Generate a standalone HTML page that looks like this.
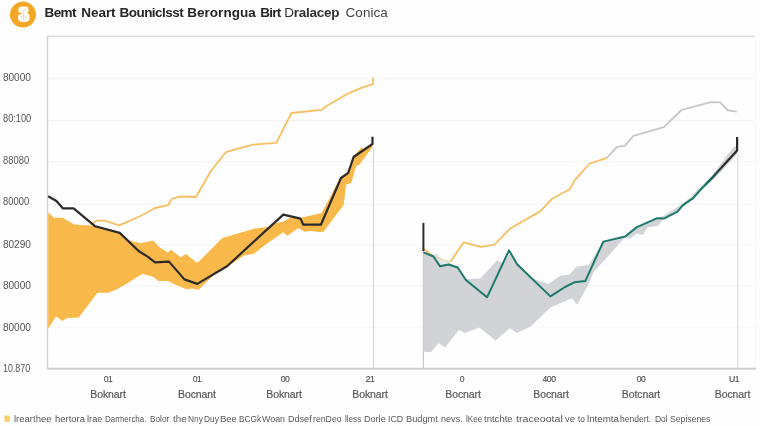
<!DOCTYPE html>
<html><head><meta charset="utf-8">
<style>
html,body{margin:0;padding:0;background:#fefefe;}
body{width:760px;height:426px;overflow:hidden;position:relative;font-family:"Liberation Sans",sans-serif;}
svg{position:absolute;left:0;top:0;filter:blur(0.4px);}
.t,#lg span{filter:blur(0.35px);}
.t{position:absolute;white-space:nowrap;line-height:1;}
.tw{top:6px;font-size:13.5px;font-weight:bold;color:#262626;}
#lg span{position:absolute;top:414.1px;white-space:nowrap;line-height:1;font-size:9.4px;color:#585858;transform-origin:left center;display:block;}
.yl{left:2.9px;font-size:10.1px;color:#555;transform-origin:left center;}
.xn{font-size:8.6px;color:#505050;-webkit-text-stroke:0.15px #505050;transform:translateX(-50%);letter-spacing:-0.45px;}
.xl{font-size:10.5px;color:#5a5a5a;-webkit-text-stroke:0.2px #5a5a5a;transform:translateX(-50%);letter-spacing:-0.1px;}
</style></head><body>
<svg width="760" height="426" viewBox="0 0 760 426">
 <!-- gridlines -->
 <g stroke="#f4f4f4" stroke-width="1.2">
  <line x1="47" y1="78.6" x2="754" y2="78.6"/>
  <line x1="47" y1="120.7" x2="754" y2="120.7"/>
  <line x1="47" y1="161.8" x2="754" y2="161.8"/>
  <line x1="47" y1="204.4" x2="754" y2="204.4"/>
  <line x1="47" y1="245" x2="754" y2="245"/>
  <line x1="47" y1="285.8" x2="754" y2="285.8"/>
  <line x1="47" y1="327" x2="754" y2="327"/>
 </g>
 <!-- frame -->
 <line x1="47" y1="36.3" x2="755" y2="36.3" stroke="#dcdcdc" stroke-width="1.4"/>
 <line x1="47.5" y1="36" x2="47.5" y2="368" stroke="#d2d2d2" stroke-width="1.4"/>
 <line x1="373.5" y1="148" x2="373.5" y2="368" stroke="#d6d6d6" stroke-width="1.2"/>
 <line x1="423.4" y1="250" x2="423.4" y2="368" stroke="#c8c8c8" stroke-width="1.2"/>
 <line x1="737.8" y1="150" x2="737.8" y2="368" stroke="#dddddd" stroke-width="1.2"/>
 <line x1="47" y1="368.8" x2="756" y2="368.8" stroke="#cfcfcf" stroke-width="2"/>
 <line x1="755.5" y1="36" x2="755.5" y2="368" stroke="#f6f6f6" stroke-width="1"/>

 <!-- left orange fill -->
 <polygon fill="#f8b84a" points="48.2,212.3 54,217.7 62.8,217.7 74,224.5 90.5,225.6 95.2,226.3 119.8,232.9 129.2,240.4 141,243.2 153.1,240.4 159.7,247.5 168,252.6 171,249.8 180.4,257.3 186,254 196.8,262.7 200,260.4 222.3,238.1 254,228.7 268,227 276.3,222.9 283.7,221.4 289.5,218 301,217.8 321.6,213 331.5,194.7 339.7,178 348,172 353,157 361.7,147 363,149 372.5,143.6 372.5,147 359,165 356,166.3 351.3,183.1 346.2,184.4 343.6,205.1 323,232.2 310,231 304.5,231.8 298.6,228 287.3,235.8 283.3,232.3 265.7,244.5 254,253.8 244.6,255.3 227,267 220.7,268.6 203.8,284.4 198.9,289.8 192,288.6 186.7,289.3 176,285 168,281 158.5,281 152.7,276.4 142,274 126.9,283.4 116.3,289.8 108,292.8 97.5,292.8 78.7,317.5 67,318 62.3,321 56,316.3 48.2,328.7"/>
 <!-- left orange line -->
 <polyline fill="none" stroke="#f6bf63" stroke-width="1.8" stroke-linejoin="round" points="90.5,224.5 96.3,220.7 104.6,220.7 119.3,225.4 141,215.8 155,208 168,205.2 172,198.6 180.8,196.5 196,197 209,174.2 211.7,170 225.8,152.2 252.8,144.6 276.3,142.8 291.5,113 321.6,109.9 326.8,105.7 346.7,94.2 362,87.6 373,84.1 373,77.5"/>
 <!-- left black line -->
 <polyline fill="none" stroke="#2d2a2a" stroke-width="2.2" stroke-linejoin="round" points="48.2,196.3 56.4,201 62.8,208.3 73.6,208.3 95.2,226.3 119.8,232.9 138.6,251 148,256.9 155,262.3 169,261.6 184.4,279.4 197.3,283.9 227,266.3 283.3,214.6 300.5,218.6 303.3,224.7 320.9,224.7 341,178 348.2,172.8 353.6,157 372.5,144 372.5,136.8"/>

 <!-- right gray fill -->
 <polygon fill="#d1d3d6" points="423.4,251 433.5,255.8 437,253.4 441.7,260.5 448.7,262.8 457.7,267 465.9,279.2 480.4,278.5 496.9,260.5 503,263 509,254 513.3,258 517.3,264.5 534.4,279.2 548.5,284 560.2,275.7 569.6,274.6 576.7,266.8 588.8,265.1 596,253 603.3,241.6 625.2,236.5 636.9,227.1 657.3,218.2 663.9,215.8 676.8,207.6 682,204 692,195.9 698,189 710.8,177 734.3,146.3 737.1,148 737.1,154 716,177 700.3,191 693.2,199 682.7,206 677.5,211.6 663.9,218.6 658,225.7 647.5,227.6 642.8,235.1 636.9,233.4 629.9,238.8 625.2,237 617,246.3 593.5,272.2 588,285.3 577.1,304.7 572,298.2 550.4,307.6 530.9,326.3 516.8,332.9 509.8,328.2 495.7,340.4 479.2,327.5 465.2,332.9 458.8,329.9 445.2,347.5 438.6,343.2 431,352.2 423.4,351.7"/>
 <!-- right orange/gray thin line -->
 <polygon fill="#e3e6ea" points="433.3,255.8 436.6,253.6 441.8,260.1 450.2,261.6 449.4,263.8 440.4,265.2 436.1,259"/>
 <polyline fill="none" stroke="#f6bf63" stroke-width="1.8" stroke-linejoin="round" points="423.4,248.8 433.3,256.1"/>
 <polyline fill="none" stroke="#f6bf63" stroke-width="1.6" stroke-linejoin="round" opacity="0.45" points="433.3,256.1 443.2,259.8 450.4,261.7"/>
 <polyline fill="none" stroke="#f6bf63" stroke-width="1.8" stroke-linejoin="round" points="450.4,261.7 463.5,242.4 480.4,246.9 494.5,244.7 509.8,228.8 540.5,211.1 552.2,198.7 569.8,189.3 574.5,180.4 589.8,163.5 606.8,157.8"/>
 <polyline fill="none" stroke="#c6c6c6" stroke-width="1.8" stroke-linejoin="round" points="606.8,157.8 617,146.8 624.8,145.9 633.4,135.8 663.9,127.1 681.5,110 710.8,102.2 720.2,102.4 727.7,110.4 737.1,111.6"/>
 <!-- right green line -->
 <polyline fill="none" stroke="#1c7a6b" stroke-width="2" stroke-linejoin="round" points="423.4,252.3 433.5,256.5 440,266.3 448.7,264.5 457.7,267.5 465.9,280 487,297.3 509,250.4 517.3,264.5 550.4,296.4 565,287 574.3,282.3 585.3,281.1 603.3,241.6 625.2,236.5 636.9,227.1 657.3,218.2 663.9,218.6 677.5,211.6 682.7,205.3 693.2,198.2 700.3,190 710.8,179.2 715.5,174.5"/>
 <defs><linearGradient id="gb" gradientUnits="userSpaceOnUse" x1="706" y1="184" x2="724" y2="165"><stop offset="0" stop-color="#1c7a6b"/><stop offset="1" stop-color="#2d2a2a"/></linearGradient></defs>
 <polyline fill="none" stroke="url(#gb)" stroke-width="2.2" stroke-linejoin="round" points="706,184 710.8,179.2 737.1,150.6 737.1,137"/>
 <line x1="423.4" y1="222.9" x2="423.4" y2="251" stroke="#2d2a2a" stroke-width="2"/>
 <line x1="54" y1="195.5" x2="56.4" y2="199.4" stroke="#cfcfcf" stroke-width="0.9"/>

 <!-- logo -->
 <circle cx="23" cy="14.6" r="13" fill="#f5a828"/>
 <path fill="#fffdf8" d="M18.4,10 C18.4,7.8 19.8,6.5 21.6,6.5 C23,6.2 24.4,7 25.6,6.5 C27.4,6.1 28.6,7.8 28.6,9.6 C28.6,11.2 28.2,12.2 27.3,12.9 C28.8,13.6 29.6,15 29.6,17 C29.6,19.8 28.4,21.6 26,21.9 C24.6,22.2 23.2,22.1 21.8,21.8 C19.4,21.5 18,19.8 18,17.4 C18,16 18.2,15.4 18.7,15 C19.6,14.4 21.7,14.3 21.9,13.5 C21.7,12.8 19.6,12.8 18.8,12.2 C18.5,11.8 18.4,11 18.4,10 Z"/>
 <g fill="none" stroke="#f5a828" stroke-linecap="round" opacity="0.6">
  <path d="M23.8,9.6 C22.9,11 24.3,12.4 23.5,14 C22.7,15.8 24.4,17.4 23.5,20.2" stroke-width="0.8"/>
  <path d="M26,8.6 L25.4,10.4" stroke-width="0.6"/>
  <path d="M21.6,16.2 L21.2,18.4" stroke-width="0.6"/>
  <path d="M26.2,16.4 L25.8,18.6" stroke-width="0.6"/>
  <path d="M21,9 L21.4,10.6" stroke-width="0.5"/>
 </g>
 <!-- legend swatch -->
 <rect x="4.4" y="415.6" width="5.4" height="6.2" fill="#f9cd6b"/>
</svg>

<div class="t tw" style="left:44.5px;letter-spacing:-0.57px">Bemt</div>
<div class="t tw" style="left:81.3px;letter-spacing:-0.06px">Neart</div>
<div class="t tw" style="left:119.5px;letter-spacing:-0.53px">Bouniclsst</div>
<div class="t tw" style="left:187.2px;letter-spacing:0.04px">Berorngua</div>
<div class="t tw" style="left:260.2px;letter-spacing:-0.76px">Birt</div>
<div class="t tw" style="left:284.2px;letter-spacing:-0.26px;color:#303030"><span style="font-weight:normal">D</span>ralacep</div>
<div class="t tw" style="left:345.6px;letter-spacing:0.03px;font-weight:normal;color:#444">Conica</div>

<div class="t yl" style="top:72.6px;transform:scaleX(1)">80000</div>
<div class="t yl" style="top:114.2px;transform:scaleX(0.915)">80:100</div>
<div class="t yl" style="top:156.0px;transform:scaleX(0.93)">88080</div>
<div class="t yl" style="top:197.3px;transform:scaleX(0.93)">80000</div>
<div class="t yl" style="top:239.7px;transform:scaleX(1)">80290</div>
<div class="t yl" style="top:281.2px;transform:scaleX(1)">80000</div>
<div class="t yl" style="top:322.8px;transform:scaleX(1)">80000</div>
<div class="t yl" style="top:364.3px;transform:scaleX(0.88)">10.870</div>

<div class="t xn" style="left:108px;top:375px">01</div>
<div class="t xn" style="left:197px;top:375px">01</div>
<div class="t xn" style="left:285px;top:375px">00</div>
<div class="t xn" style="left:370px;top:375px">21</div>
<div class="t xn" style="left:462px;top:375px">0</div>
<div class="t xn" style="left:549px;top:375px">400</div>
<div class="t xn" style="left:641px;top:375px">00</div>
<div class="t xn" style="left:734px;top:375px">U1</div>

<div class="t xl" style="left:108px;top:389px">Boknart</div>
<div class="t xl" style="left:197px;top:389px">Bocnant</div>
<div class="t xl" style="left:284px;top:389px">Boknart</div>
<div class="t xl" style="left:370px;top:389px">Boknart</div>
<div class="t xl" style="left:463px;top:389px">Bocnart</div>
<div class="t xl" style="left:551px;top:389px">Bocnart</div>
<div class="t xl" style="left:641px;top:389px">Botcnart</div>
<div class="t xl" style="left:732.5px;top:389px">Bocnart</div>

<div id="lg">
<span style="left:14.2px;transform:scaleX(1.013)">lrearthee</span>
<span style="left:54.9px;transform:scaleX(1.009)">hertora</span>
<span style="left:86.8px;transform:scaleX(0.985)">lrae</span>
<span style="left:104.6px;transform:scaleX(0.845)">Darmercha.</span>
<span style="left:150.3px;transform:scaleX(0.882)">Bolor</span>
<span style="left:172.6px;transform:scaleX(1.058)">the</span>
<span style="left:188px;transform:scaleX(0.888)">Nny</span>
<span style="left:204.1px;transform:scaleX(0.888)">Duy</span>
<span style="left:219.8px;transform:scaleX(1.013)">Bee</span>
<span style="left:238.7px;transform:scaleX(0.883)">BCGk</span>
<span style="left:262px;transform:scaleX(0.945)">Woan</span>
<span style="left:288.3px;transform:scaleX(0.967)">Ddsef</span>
<span style="left:312.6px;transform:scaleX(0.930)">renDeo</span>
<span style="left:344.7px;transform:scaleX(0.863)">lless</span>
<span style="left:363.9px;transform:scaleX(0.968)">Dorle</span>
<span style="left:387.6px;transform:scaleX(0.941)">ICD</span>
<span style="left:406.3px;transform:scaleX(0.987)">Budgmt</span>
<span style="left:440.7px;transform:scaleX(0.968)">nevs.</span>
<span style="left:466.4px;transform:scaleX(0.874)">lKee</span>
<span style="left:484.1px;transform:scaleX(1.019)">tntchte</span>
<span style="left:515.7px;transform:scaleX(1.137)">traceootal</span>
<span style="left:565.3px;transform:scaleX(0.999)">ve</span>
<span style="left:577.9px;transform:scaleX(0.881)">to</span>
<span style="left:587.4px;transform:scaleX(1.041)">lntemta</span>
<span style="left:620.4px;transform:scaleX(0.907)">hendert.</span>
<span style="left:654.7px;transform:scaleX(0.902)">Dol</span>
<span style="left:669.5px;transform:scaleX(0.923)">Sepisenes</span>
</div>
</body></html>
